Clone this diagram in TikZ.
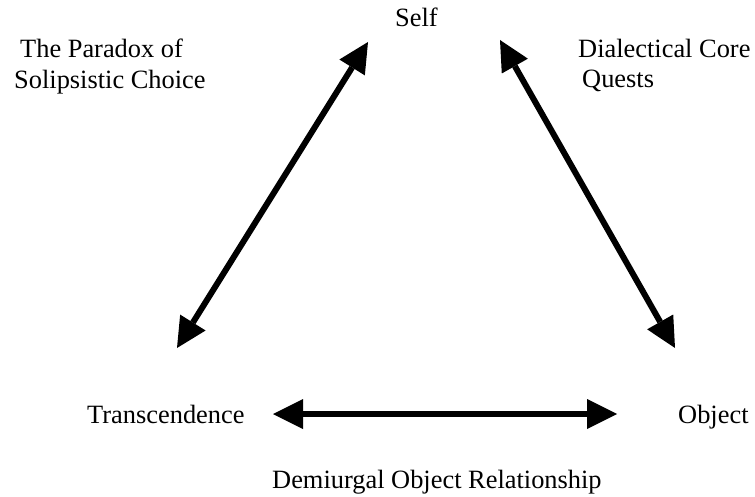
\documentclass[tikz,border=0pt]{standalone}
\usepackage{fontspec}
\setmainfont{Liberation Serif}
\usetikzlibrary{arrows.meta}

\begin{document}
\begin{tikzpicture}[x=1pt,y=-1pt,
    labeltext/.style={inner sep=0pt,font=\fontsize{26.4}{30.4}\selectfont},
    twoway/.style={line width=6pt,
      {Triangle[length=30pt,width=30pt,line width=0pt]}-{Triangle[length=30pt,width=30pt,line width=0pt]}}]
  \useasboundingbox (0,0) rectangle (755,497);
  % the three corners
  \node[labeltext,anchor=base west] (self) at (395,27) {Self};
  \node[labeltext,anchor=base west] (trans) at (87,423) {Transcendence};
  \node[labeltext,anchor=base west] (object) at (678,423) {Object};
  % the three sides
  \node[labeltext,anchor=north west,align=left] (paradox) at (14,39)
    {\hspace{6pt}The Paradox of\\Solipsistic Choice};
  \node[labeltext,anchor=north west,align=left] (dialect) at (578,39)
    {Dialectical Core\\\hspace{4pt}Quests};
  \node[labeltext,anchor=base west] (demi) at (272,488) {Demiurgal Object Relationship};
  % arrow ends
  \coordinate (selfL) at (368,42);
  \coordinate (transU) at (177,348);
  \coordinate (selfR) at (500,40);
  \coordinate (objectU) at (675,348);
  \coordinate (transR) at (273,414);
  \coordinate (objectL) at (617,414);
  \draw[twoway] (selfL) -- (transU);
  \draw[twoway] (selfR) -- (objectU);
  \draw[twoway] (transR) -- (objectL);
\end{tikzpicture}
\end{document}
